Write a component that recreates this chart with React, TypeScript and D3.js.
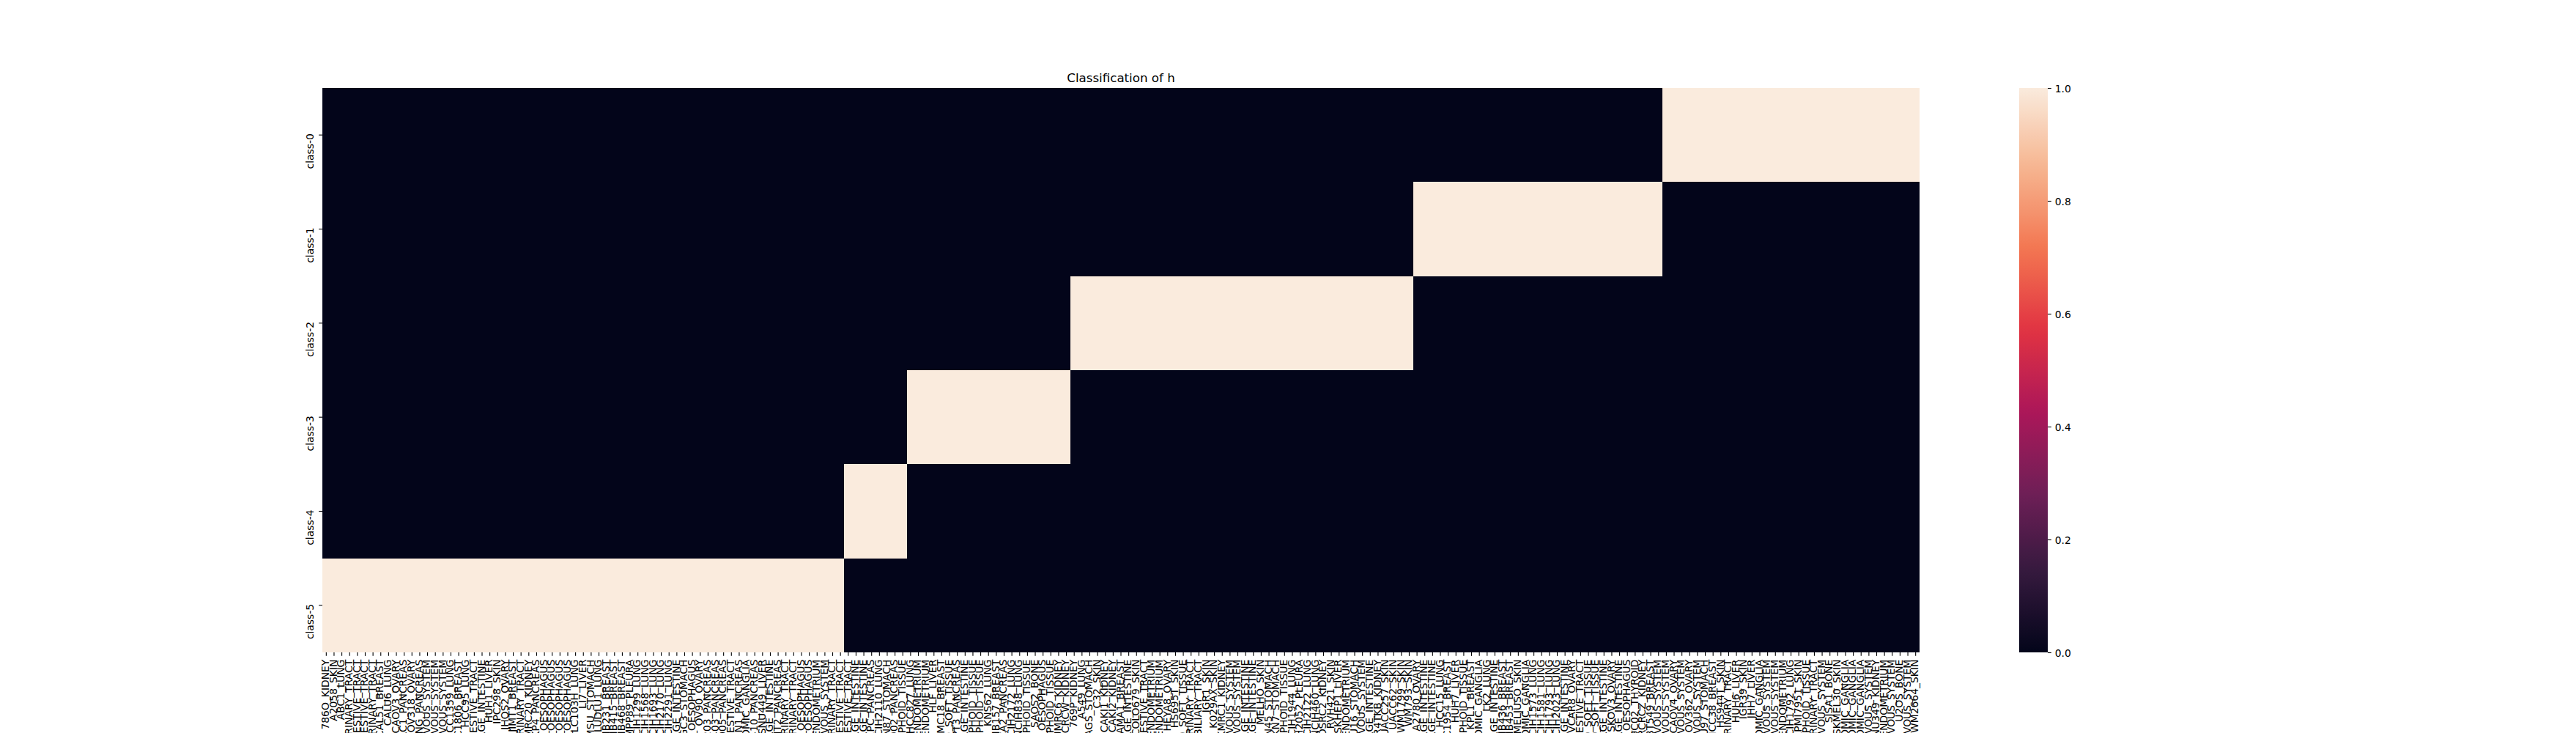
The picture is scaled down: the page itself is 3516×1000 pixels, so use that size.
import React, { useEffect, useRef } from 'react';
import * as d3 from 'd3';

// cell lines per predicted class, in the column order of the heatmap
const class5Lines = [
  '786O_KIDNEY', 'A2058_SKIN', 'ABC1_LUNG', 'BFTC905_URINARY_TRACT', 'BICR16_UPPER_AERODIGESTIVE_TRACT',
  'BICR22_UPPER_AERODIGESTIVE_TRACT', 'CAL29_URINARY_TRACT', 'CAL51_BREAST', 'CALU6_LUNG', 'CAOV3_OVARY',
  'CFPAC1_PANCREAS', 'COV318_OVARY', 'DANG_PANCREAS', 'DBTRG05MG_CENTRAL_NERVOUS_SYSTEM', 'DKMG_CENTRAL_NERVOUS_SYSTEM',
  'GB1_CENTRAL_NERVOUS_SYSTEM', 'HCC1359_LUNG', 'HCC1806_BREAST', 'HCC95_LUNG', 'HSC2_UPPER_AERODIGESTIVE_TRACT',
  'HT55_LARGE_INTESTINE', 'HUH1_LIVER', 'IPC298_SKIN', 'JHOS2_OVARY', 'JIMT1_BREAST',
  'JMSU1_URINARY_TRACT', 'KMRC20_KIDNEY', 'KP4_PANCREAS', 'KYSE150_OESOPHAGUS', 'KYSE30_OESOPHAGUS',
  'KYSE450_OESOPHAGUS', 'KYSE70_OESOPHAGUS', 'LCLC103H_LUNG', 'LI7_LIVER', 'LMSU_STOMACH',
  'LUDLU1_LUNG', 'MDAMB231_BREAST', 'MDAMB415_BREAST', 'MDAMB468_BREAST', 'MPP89_PLEURA',
  'NCIH1299_LUNG', 'NCIH1568_LUNG', 'NCIH1693_LUNG', 'NCIH2170_LUNG', 'NCIH2291_LUNG',
  'NCIH747_LARGE_INTESTINE', 'NUGC3_STOMACH', 'OE33_OESOPHAGUS', 'OV90_OVARY', 'PANC0203_PANCREAS',
  'PANC0403_PANCREAS', 'PANC1005_PANCREAS', 'PECAPJ49_UPPER_AERODIGESTIVE_TRACT', 'PSN1_PANCREAS', 'SHSY5Y_AUTONOMIC_GANGLIA',
  'SNU410_PANCREAS', 'SNU449_LIVER', 'SNUC2A_LARGE_INTESTINE', 'SUIT2_PANCREAS', 'SW1710_URINARY_TRACT',
  'T24_URINARY_TRACT', 'TE10_OESOPHAGUS', 'TE9_OESOPHAGUS', 'TEN_ENDOMETRIUM', 'U87MG_CENTRAL_NERVOUS_SYSTEM',
  'UMUC3_URINARY_TRACT', 'YD15_UPPER_AERODIGESTIVE_TRACT',
];
const class4Lines = [
  'DETROIT562_UPPER_AERODIGESTIVE_TRACT', 'HCT15_LARGE_INTESTINE', 'LS180_LARGE_INTESTINE', 'MZ1PC_PANCREAS',
  'NCIH2110_LUNG', 'NCIN87_STOMACH', 'PATU8902_PANCREAS', 'SUDHL6_HAEMATOPOIETIC_AND_LYMPHOID_TISSUE',
];
const class3Lines = [
  'HCC827_LUNG', 'HEC1A_ENDOMETRIUM', 'HEC151_ENDOMETRIUM', 'HLF_LIVER', 'HMC18_BREAST', 'HS729_SOFT_TISSUE',
  'HUPT3_PANCREAS', 'KM12_LARGE_INTESTINE', 'KMS11_HAEMATOPOIETIC_AND_LYMPHOID_TISSUE',
  'KMS12BM_HAEMATOPOIETIC_AND_LYMPHOID_TISSUE', 'KNS62_LUNG', 'MDAMB157_BREAST', 'MIAPACA2_PANCREAS',
  'NCIH2172_LUNG', 'NCIH838_LUNG', 'OCIAML3_HAEMATOPOIETIC_AND_LYMPHOID_TISSUE', 'SAOS2_BONE',
  'SKGT4_OESOPHAGUS', 'SUDHL5_HAEMATOPOIETIC_AND_LYMPHOID_TISSUE', 'UMRC6_KIDNEY', 'VMRCRCW_KIDNEY',
];
const class2Lines = [
  '769P_KIDNEY', 'A549_LUNG', 'AGS_STOMACH', 'C32_SKIN', 'CAKI1_KIDNEY', 'CAKI2_KIDNEY', 'CAMA1_BREAST',
  'COLO320_LARGE_INTESTINE', 'COLO679_SKIN', 'FADU_UPPER_AERODIGESTIVE_TRACT', 'HEC108_ENDOMETRIUM',
  'HEC265_ENDOMETRIUM', 'HEYA8_OVARY', 'HS695T_SKIN', 'HT1080_SOFT_TISSUE', 'HT1376_URINARY_TRACT',
  'HUH28_BILIARY_TRACT', 'IGR1_SKIN', 'K029AX_SKIN', 'KMRC1_KIDNEY', 'KNS42_CENTRAL_NERVOUS_SYSTEM',
  'LN18_CENTRAL_NERVOUS_SYSTEM', 'LOVO_LARGE_INTESTINE', 'LS411N_LARGE_INTESTINE', 'MELHO_SKIN', 'MKN45_STOMACH',
  'MKN7_STOMACH', 'MOLM13_HAEMATOPOIETIC_AND_LYMPHOID_TISSUE', 'NCIH1944_LUNG', 'NCIH2052_PLEURA',
  'NCIH2122_LUNG', 'NCIH460_LUNG', 'OSRC2_KIDNEY', 'RVH421_SKIN', 'SKHEP1_LIVER', 'SNGM_ENDOMETRIUM',
  'SNU16_STOMACH', 'SW1088_CENTRAL_NERVOUS_SYSTEM', 'SW480_LARGE_INTESTINE', 'TUHR4TKB_KIDNEY',
  'UACC257_SKIN', 'UACC62_SKIN', 'WM1799_SKIN', 'WM793_SKIN',
];
const class1Lines = [
  'A2780_OVARY', 'COLO205_LARGE_INTESTINE', 'HCT116_LARGE_INTESTINE', 'HCC15_LUNG', 'HCC1954_BREAST',
  'HUH7_LIVER', 'JURKAT_HAEMATOPOIETIC_AND_LYMPHOID_TISSUE', 'KPL1_BREAST', 'KELLY_AUTONOMIC_GANGLIA',
  'LK2_LUNG', 'LS174T_LARGE_INTESTINE', 'MDAMB436_BREAST', 'MDAMB453_BREAST', 'MELJUSO_SKIN',
  'MHHNB11_AUTONOMIC_GANGLIA', 'NCIH1573_LUNG', 'NCIH1581_LUNG', 'NCIH1793_LUNG', 'NCIH2023_LUNG',
  'NCIH508_LARGE_INTESTINE', 'OVCAR8_OVARY', 'PECAPJ15_UPPER_AERODIGESTIVE_TRACT', 'RD_SOFT_TISSUE',
  'RH30_SOFT_TISSUE', 'RKO_LARGE_INTESTINE', 'SKOV3_OVARY', 'SW620_LARGE_INTESTINE', 'TE5_OESOPHAGUS',
  'TT2609C02_THYROID', 'VMRCRCZ_KIDNEY', 'BT549_BREAST', 'YKG1_CENTRAL_NERVOUS_SYSTEM',
];
const class0Lines = [
  'A172_CENTRAL_NERVOUS_SYSTEM', 'CAOV4_OVARY', 'CAS1_CENTRAL_NERVOUS_SYSTEM', 'COV362_OVARY',
  'DAOY_CENTRAL_NERVOUS_SYSTEM', 'FU97_STOMACH', 'HCC38_BREAST', 'HS944T_SKIN', 'HT1197_URINARY_TRACT',
  'HUH6_LIVER', 'IGR39_SKIN', 'JHH7_LIVER', 'KPNYN_AUTONOMIC_GANGLIA', 'M059K_CENTRAL_NERVOUS_SYSTEM',
  'MOGGCCM_CENTRAL_NERVOUS_SYSTEM', 'MFE296_ENDOMETRIUM', 'NCIH1792_LUNG', 'RPMI7951_SKIN',
  'SEM_HAEMATOPOIETIC_AND_LYMPHOID_TISSUE', 'SCABER_URINARY_TRACT', 'SF295_CENTRAL_NERVOUS_SYSTEM',
  'SJSA1_BONE', 'SKMEL30_SKIN', 'SKNAS_AUTONOMIC_GANGLIA', 'SKNBE2_AUTONOMIC_GANGLIA', 'SKNDZ_AUTONOMIC_GANGLIA',
  'SNU1105_CENTRAL_NERVOUS_SYSTEM', 'SNU349_KIDNEY', 'SNU685_ENDOMETRIUM', 'T98G_CENTRAL_NERVOUS_SYSTEM',
  'U2OS_BONE', 'U118MG_CENTRAL_NERVOUS_SYSTEM', 'WM2664_SKIN',
];

const classNames = ['class-0', 'class-1', 'class-2', 'class-3', 'class-4', 'class-5'];
const cbarTicks = [0, 0.2, 0.4, 0.6, 0.8, 1.0];
const titleText = 'Classification of h';

// seaborn "rocket" sampled at a few stops
const rocketStops = [0, 1 / 7, 2 / 7, 3 / 7, 4 / 7, 5 / 7, 6 / 7, 1];
const rocketColors = ['#03051a', '#35193e', '#701f57', '#ad1759', '#e13342', '#f37651', '#f6b48f', '#faebdd'];

const FONT = '"DejaVu Sans", sans-serif';

const App: React.FC = () => {
  const ref = useRef<SVGSVGElement | null>(null);

  useEffect(() => {
    if (!ref.current) return;
    const svg = d3.select(ref.current);
    svg.selectAll('*').remove();

    // columns go class-5 first, then 4 ... 0
    const groups = [class0Lines, class1Lines, class2Lines, class3Lines, class4Lines, class5Lines];
    const columns: { name: string; cls: number }[] = [];
    for (let c = 5; c >= 0; c--) {
      groups[c].forEach((name) => columns.push({ name, cls: c }));
    }

    const left = 440;
    const right = 2620;
    const top = 120;
    const bottom = 890;
    const tickLen = 4.86;
    const tickPad = 4.86;

    const xScale = d3.scaleBand<number>().domain(d3.range(columns.length)).range([left, right]);
    const yScale = d3.scaleBand<string>().domain(classNames).range([top, bottom]);
    const color = d3
      .scaleLinear<string>()
      .domain(rocketStops)
      .range(rocketColors)
      .interpolate(d3.interpolateRgb);

    const cells: { col: number; row: string; value: number }[] = [];
    columns.forEach((col, i) => {
      classNames.forEach((row, r) => {
        cells.push({ col: i, row, value: col.cls === r ? 1 : 0 });
      });
    });

    svg
      .append('g')
      .selectAll('rect')
      .data(cells)
      .enter()
      .append('rect')
      .attr('x', (d) => xScale(d.col) as number)
      .attr('y', (d) => yScale(d.row) as number)
      .attr('width', xScale.bandwidth() + 0.3)
      .attr('height', yScale.bandwidth() + 0.3)
      .attr('fill', (d) => color(d.value))
      .attr('shape-rendering', 'crispEdges');

    // x ticks + rotated labels
    const xg = svg.append('g');
    const xt = xg
      .selectAll('g')
      .data(columns.map((c, i) => ({ ...c, i })))
      .enter()
      .append('g')
      .attr('transform', (d) => `translate(${(xScale(d.i) as number) + xScale.bandwidth() / 2},${bottom})`);
    xt.append('line').attr('y1', 0).attr('y2', tickLen).attr('stroke', '#000').attr('stroke-width', 1.1);
    xt.append('text')
      .attr('transform', `translate(3.7,${tickLen + tickPad}) rotate(-90)`)
      .attr('text-anchor', 'end')
      .style('font-family', FONT)
      .style('font-size', '13.89px')
      .attr('fill', '#000')
      .text((d) => d.name);

    // y ticks + rotated labels
    const yg = svg.append('g');
    const yt = yg
      .selectAll('g')
      .data(classNames)
      .enter()
      .append('g')
      .attr('transform', (d) => `translate(${left},${(yScale(d) as number) + yScale.bandwidth() / 2})`);
    yt.append('line').attr('x1', -tickLen).attr('x2', 0).attr('stroke', '#000').attr('stroke-width', 1.1);
    yt.append('text')
      .attr('transform', `translate(${-tickLen - tickPad - 2.6},-2) rotate(-90)`)
      .attr('text-anchor', 'end')
      .style('font-family', FONT)
      .style('font-size', '13.89px')
      .attr('fill', '#000')
      .text((d) => d);

    // title
    svg
      .append('text')
      .attr('x', (left + right) / 2)
      .attr('y', top - 8.3)
      .attr('text-anchor', 'middle')
      .style('font-family', FONT)
      .style('font-size', '16.67px')
      .attr('fill', '#000')
      .text(titleText);

    // colorbar
    const cbLeft = 2756;
    const cbRight = 2795;
    const cbScale = d3.scaleLinear().domain([0, 1]).range([bottom, top]);
    const grad = svg
      .append('defs')
      .append('linearGradient')
      .attr('id', 'rocket')
      .attr('x1', 0)
      .attr('y1', 1)
      .attr('x2', 0)
      .attr('y2', 0);
    d3.range(0, 1.0001, 0.02).forEach((t) => {
      grad.append('stop').attr('offset', t).attr('stop-color', color(t));
    });
    svg
      .append('rect')
      .attr('x', cbLeft)
      .attr('y', top)
      .attr('width', cbRight - cbLeft)
      .attr('height', bottom - top)
      .attr('fill', 'url(#rocket)');

    const cbAxis = d3
      .axisRight(cbScale)
      .tickValues(cbarTicks)
      .tickFormat(d3.format('.1f'))
      .tickSize(tickLen)
      .tickPadding(tickPad);
    const cg = svg.append('g').attr('transform', `translate(${cbRight},0)`).call(cbAxis);
    cg.select('.domain').remove();
    cg.selectAll('line').attr('stroke', '#000').attr('stroke-width', 1.1);
    cg.selectAll('text')
      .style('font-family', FONT)
      .style('font-size', '13.89px')
      .attr('fill', '#000')
      .attr('dy', '0.36em');
  }, []);

  return (
    <div style={{ position: 'absolute', left: 0, top: 0, background: '#fff' }}>
      <svg ref={ref} width={3516} height={1000} style={{ display: 'block' }}></svg>
    </div>
  );
};

export default App;
